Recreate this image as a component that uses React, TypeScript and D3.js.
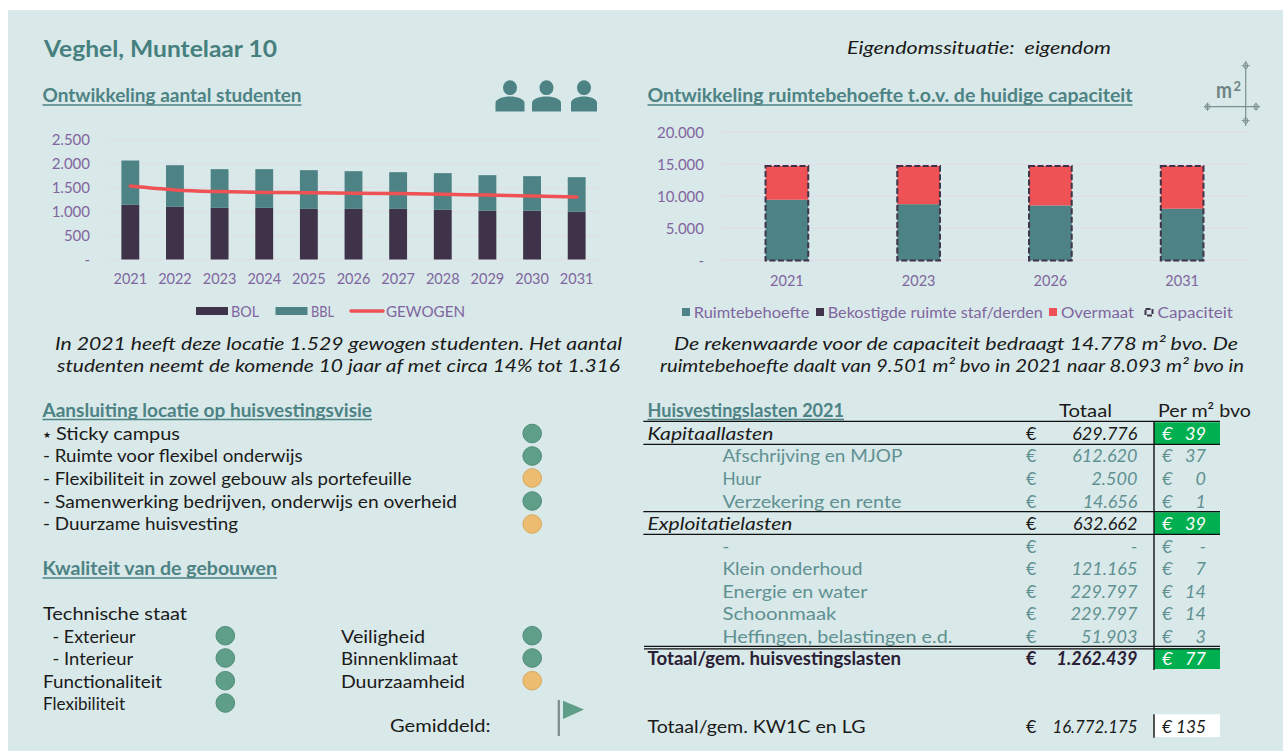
import * as d3 from "d3";
import { useEffect, useRef } from "react";

// student chart
const studentYears = ["2021", "2022", "2023", "2024", "2025", "2026", "2027", "2028", "2029", "2030", "2031"];
const bol = [1139, 1097, 1076, 1076, 1055, 1055, 1055, 1035, 1014, 1014, 993];
const bbl = [923, 868, 806, 806, 806, 785, 764, 764, 743, 722, 722];
const gewogen = [1529, 1450, 1415, 1397, 1392, 1380, 1375, 1358, 1342, 1325, 1300];
const studentTicks = [0, 500, 1000, 1500, 2000, 2500];

// space chart
const spaceYears = ["2021", "2023", "2026", "2031"];
const ruimtebehoefte = [9501, 8800, 8600, 8093];
const bekostigd = [0, 0, 0, 0];
const overmaat = [5277, 5978, 6178, 6685];
const capaciteit = [14778, 14778, 14778, 14778];
const spaceTicks = [0, 5000, 10000, 15000, 20000];

// scores
const visieNames = [
  "- Ruimte voor flexibel onderwijs",
  "- Flexibiliteit in zowel gebouw als portefeuille",
  "- Samenwerking bedrijven, onderwijs en overheid",
  "- Duurzame huisvesting",
];
const visieScores = ["good", "good", "ok", "good", "ok"];
const kwaliteitLeft = ["- Exterieur", "- Interieur", "Functionaliteit", "Flexibiliteit"];
const kwaliteitLeftScores = ["good", "good", "good", "good"];
const kwaliteitRight = ["Veiligheid", "Binnenklimaat", "Duurzaamheid"];
const kwaliteitRightScores = ["good", "good", "ok"];

// costs table
const costNames = [
  "Kapitaallasten", "Afschrijving en MJOP", "Huur", "Verzekering en rente",
  "Exploitatielasten", "-", "Klein onderhoud", "Energie en water", "Schoonmaak",
  "Heffingen, belastingen e.d.", "Totaal/gem. huisvestingslasten",
];
const costTotals = ["629.776", "612.620", "2.500", "14.656", "632.662", "-", "121.165", "229.797", "229.797", "51.903", "1.262.439"];
const costPerM2 = ["39", "37", "0", "1", "39", "-", "7", "14", "14", "3", "77"];
const costKinds = ["head", "sub", "sub", "sub", "head", "sub", "sub", "sub", "sub", "sub", "total"];

const FONT = "Lato, 'Open Sans', sans-serif";
const TEAL = "#4d8385";
const DARK = "#3e3349";
const RED = "#ee5254";
const PURPLE = "#7f669f";
const GREEN = "#5f9e89";
const AMBER = "#ecbc70";

const nl = d3.formatLocale({ decimal: ",", thousands: ".", grouping: [3], currency: ["€", ""] });
const tickFormat = (d) => (d === 0 ? "-" : nl.format(",")(d));

type TextOpts = {
  w?: number;
  size?: number;
  fill?: string;
  weight?: string;
  italic?: boolean;
  anchor?: string;
};

// every text sits on its vertical centre, w squeezes it to the reference width
function put(g, str, x, y, o: TextOpts = {}) {
  const t = g
    .append("text")
    .attr("x", x)
    .attr("y", y)
    .attr("dy", ".35em")
    .attr("font-family", FONT)
    .attr("font-size", o.size ?? 18)
    .attr("fill", o.fill ?? "#1a1a1a")
    .attr("font-weight", o.weight ?? "normal")
    .attr("font-style", o.italic ? "italic" : "normal")
    .attr("text-anchor", o.anchor ?? "start")
    .text(str);
  if (o.w) t.attr("textLength", o.w).attr("lengthAdjust", "spacingAndGlyphs");
  return t;
}

function heading(g, str, x, y, w) {
  put(g, str, x, y, { w, weight: "bold", fill: TEAL, size: 18.5 });
  g.append("line")
    .attr("x1", x)
    .attr("x2", x + w)
    .attr("y1", y + 9)
    .attr("y2", y + 9)
    .attr("stroke", TEAL)
    .attr("stroke-width", 1.6);
}

function dot(g, x, y, score) {
  g.append("circle")
    .attr("cx", x)
    .attr("cy", y)
    .attr("r", 9.3)
    .attr("fill", score === "good" ? GREEN : AMBER)
    .attr("stroke", score === "good" ? "#4f8c78" : "#d8a85c")
    .attr("stroke-width", 1);
}

function person(g, cx, w) {
  g.append("ellipse").attr("cx", cx).attr("cy", 87.7).attr("rx", 7).attr("ry", 7.4).attr("fill", TEAL);
  const r = w / 2;
  g.append("path")
    .attr("d", `M${cx - r},111.5 V103 C${cx - r},99 ${cx - r / 2},96.5 ${cx},96.5 C${cx + r / 2},96.5 ${cx + r},99 ${cx + r},103 V111.5 Z`)
    .attr("fill", TEAL);
}

function styleAxis(g, size) {
  g.call((s) => s.select(".domain").remove());
  g.selectAll(".tick line").remove();
  g.selectAll("text").attr("font-family", FONT).attr("font-size", size).attr("fill", PURPLE);
}

function drawStudents(svg) {
  const x = d3.scaleBand().domain(studentYears).range([108, 599]).paddingInner(0.6).paddingOuter(0.3);
  const y = d3.scaleLinear().domain([0, 2500]).range([259.5, 139.5]);

  const g = svg.append("g");
  g.append("g")
    .selectAll("line")
    .data(studentTicks)
    .join("line")
    .attr("x1", 108)
    .attr("x2", 599)
    .attr("y1", (d) => y(d))
    .attr("y2", (d) => y(d))
    .attr("stroke", "#e0dde8")
    .attr("stroke-width", 1);

  const rows = studentYears.map((year, i) => ({ year, bol: bol[i], bbl: bbl[i] }));
  const stack = d3.stack().keys(["bol", "bbl"])(rows);
  const colors = [DARK, TEAL];
  stack.forEach((layer, i) => {
    g.append("g")
      .attr("fill", colors[i])
      .selectAll("rect")
      .data(layer)
      .join("rect")
      .attr("x", (d) => x(d.data.year))
      .attr("y", (d) => y(d[1]))
      .attr("width", x.bandwidth())
      .attr("height", (d) => y(d[0]) - y(d[1]));
  });

  const line = d3
    .line()
    .x((d, i) => x(studentYears[i]) + x.bandwidth() / 2)
    .y((d) => y(d))
    .curve(d3.curveMonotoneX);
  g.append("path")
    .attr("d", line(gewogen))
    .attr("fill", "none")
    .attr("stroke", RED)
    .attr("stroke-width", 3.5)
    .attr("stroke-linecap", "round");

  g.append("g")
    .attr("transform", "translate(96,0)")
    .call(d3.axisLeft(y).tickValues(studentTicks).tickFormat(tickFormat).tickSize(0).tickPadding(6))
    .call((s) => styleAxis(s, 15));
  g.append("g")
    .attr("transform", "translate(0,271)")
    .call(d3.axisBottom(x).tickSize(0).tickPadding(3))
    .call((s) => styleAxis(s, 14.5));

  // legend
  g.append("rect").attr("x", 196).attr("y", 307).attr("width", 32).attr("height", 8).attr("fill", DARK);
  put(g, "BOL", 231, 312, { fill: PURPLE, size: 14.5, w: 28 });
  g.append("rect").attr("x", 275.5).attr("y", 307).attr("width", 32).attr("height", 8).attr("fill", TEAL);
  put(g, "BBL", 311, 312, { fill: PURPLE, size: 14.5, w: 23 });
  g.append("line").attr("x1", 351).attr("x2", 383).attr("y1", 311).attr("y2", 311)
    .attr("stroke", RED).attr("stroke-width", 3.5).attr("stroke-linecap", "round");
  put(g, "GEWOGEN", 386, 312, { fill: PURPLE, size: 14.5, w: 79 });
}

function drawSpace(svg) {
  const x = d3.scaleBand().domain(spaceYears).range([721, 1248]).paddingInner(0.676).paddingOuter(0.338);
  const y = d3.scaleLinear().domain([0, 20000]).range([260.5, 132.5]);

  const g = svg.append("g");
  g.append("g")
    .selectAll("line")
    .data(spaceTicks)
    .join("line")
    .attr("x1", 721)
    .attr("x2", 1248)
    .attr("y1", (d) => y(d))
    .attr("y2", (d) => y(d))
    .attr("stroke", "#e6d8ea")
    .attr("stroke-width", 1);

  const rows = spaceYears.map((year, i) => ({
    year,
    ruimte: ruimtebehoefte[i],
    staf: bekostigd[i],
    over: overmaat[i],
  }));
  const stack = d3.stack().keys(["ruimte", "staf", "over"])(rows);
  const colors = [TEAL, DARK, RED];
  stack.forEach((layer, i) => {
    g.append("g")
      .attr("fill", colors[i])
      .selectAll("rect")
      .data(layer)
      .join("rect")
      .attr("x", (d) => x(d.data.year))
      .attr("y", (d) => y(d[1]))
      .attr("width", x.bandwidth())
      .attr("height", (d) => y(d[0]) - y(d[1]));
  });

  // capacity outline
  g.append("g")
    .selectAll("rect")
    .data(capaciteit)
    .join("rect")
    .attr("x", (d, i) => x(spaceYears[i]))
    .attr("y", (d) => y(d))
    .attr("width", x.bandwidth())
    .attr("height", (d) => y(0) - y(d))
    .attr("fill", "none")
    .attr("stroke", DARK)
    .attr("stroke-width", 2)
    .attr("stroke-dasharray", "6 2.5");

  g.append("g")
    .attr("transform", "translate(704,0)")
    .call(d3.axisLeft(y).tickValues(spaceTicks).tickFormat(tickFormat).tickSize(0).tickPadding(0))
    .call((s) => styleAxis(s, 15));
  g.append("g")
    .attr("transform", "translate(0,276)")
    .call(d3.axisBottom(x).tickSize(0).tickPadding(0))
    .call((s) => styleAxis(s, 14.5));

  // legend
  const lg = [
    { name: "Ruimtebehoefte", c: TEAL, sx: 682, tx: 693.7, w: 115.7 },
    { name: "Bekostigde ruimte staf/derden", c: DARK, sx: 816, tx: 827.8, w: 215 },
    { name: "Overmaat", c: RED, sx: 1049, tx: 1061, w: 73 },
  ];
  lg.forEach((l) => {
    g.append("rect").attr("x", l.sx).attr("y", 308).attr("width", 8).attr("height", 8).attr("fill", l.c);
    put(g, l.name, l.tx, 313, { fill: PURPLE, size: 14.5, w: l.w });
  });
  g.append("rect").attr("x", 1145.5).attr("y", 309).attr("width", 7).attr("height", 6.5)
    .attr("fill", "none").attr("stroke", DARK).attr("stroke-width", 2).attr("stroke-dasharray", "5 2");
  put(g, "Capaciteit", 1157.5, 313, { fill: PURPLE, size: 14.5, w: 75.5 });
}

function drawM2(svg) {
  const g = svg.append("g").attr("stroke", "#7d9190").attr("fill", "none");
  g.append("line").attr("x1", 1245.7).attr("x2", 1245.7).attr("y1", 61).attr("y2", 126).attr("stroke-width", 1.2);
  g.append("line").attr("x1", 1204).attr("x2", 1260).attr("y1", 106.7).attr("y2", 106.7).attr("stroke-width", 1.2);
  [[1245.7, 65.7], [1245.7, 120.7]].forEach(([cx, cy]) => {
    g.append("ellipse").attr("cx", cx).attr("cy", cy).attr("rx", 2).attr("ry", 3);
    g.append("line").attr("x1", cx - 4).attr("x2", cx + 4).attr("y1", cy).attr("y2", cy);
  });
  [[1207.5, 106.7], [1256, 106.7]].forEach(([cx, cy]) => {
    g.append("ellipse").attr("cx", cx).attr("cy", cy).attr("rx", 2).attr("ry", 3);
    g.append("line").attr("x1", cx).attr("x2", cx).attr("y1", cy - 4).attr("y2", cy + 4);
  });
  put(svg, "m", 1216, 90.5, { fill: "#6f8482", weight: "bold", size: 22, w: 16 });
  put(svg, "2", 1233.5, 86.5, { fill: "#6f8482", weight: "bold", size: 13 });
}

function drawLeftLists(svg) {
  const g = svg.append("g");
  heading(g, "Aansluiting locatie op huisvestingsvisie", 42.5, 410.5, 329.5);

  const visieY = [434, 456, 479, 502, 524];
  const visieW = [259.5, 368.5, 414, 195];
  put(g, "★", 43, 434.5, { size: 9, fill: "#1a1a1a" });
  put(g, "Sticky campus", 56, 434, { w: 124 });
  visieNames.forEach((d, i) => put(g, d, 43, visieY[i + 1], { w: visieW[i] }));
  visieScores.forEach((s, i) => dot(g, 532.2, [433.5, 456, 478, 501, 524][i], s));

  heading(g, "Kwaliteit van de gebouwen", 42.5, 569, 234.5);

  put(g, "Technische staat", 43, 614, { w: 144 });
  const leftX = [52.6, 52.6, 43, 43];
  const leftW = [83, 80.5, 119, 82];
  const rowY = [637, 659, 682, 704];
  const dotY = [635.7, 658, 680.7, 703];
  kwaliteitLeft.forEach((d, i) => {
    put(g, d, leftX[i], rowY[i], { w: leftW[i] });
    dot(g, 225.3, dotY[i], kwaliteitLeftScores[i]);
  });
  const rightW = [84, 117, 124];
  kwaliteitRight.forEach((d, i) => {
    put(g, d, 341, rowY[i], { w: rightW[i] });
    dot(g, 532.2, dotY[i], kwaliteitRightScores[i]);
  });

  put(g, "Gemiddeld:", 390, 726, { w: 100.5 });
  g.append("line").attr("x1", 558.8).attr("x2", 558.8).attr("y1", 700).attr("y2", 736)
    .attr("stroke", "#7c8a8c").attr("stroke-width", 2.2);
  g.append("path").attr("d", "M563,700.7 L584,709.5 L563,719 Z").attr("fill", GREEN);
}

function drawTable(svg) {
  const g = svg.append("g");
  heading(g, "Huisvestingslasten 2021", 647.5, 410.5, 196.5);
  put(g, "Totaal", 1059, 411, { w: 53 });
  put(g, "Per m² bvo", 1158, 411, { w: 93 });

  const rowY = [434, 456, 478.7, 502, 524, 547, 569, 591.7, 614, 636.7, 659];
  const nameW = [126, 180, 38.6, 179, 145, 0, 140, 145, 114, 230, 253.5];

  // green cells sit under the lines
  [[422.3, 444.3], [512.3, 534.3], [648.3, 669]].forEach(([a, b]) => {
    g.append("rect").attr("x", 1154).attr("y", a).attr("width", 66).attr("height", b - a).attr("fill", "#00b050");
  });
  g.append("rect").attr("x", 1154).attr("y", 714.3).attr("width", 66).attr("height", 22.7).attr("fill", "#fff");

  costNames.forEach((name, i) => {
    const kind = costKinds[i];
    const sub = kind === "sub";
    const total = kind === "total";
    const fill = sub ? "#5f9192" : total ? "#2a2035" : "#1a1a1a";
    put(g, name, sub ? 722.4 : 647.5, rowY[i], {
      w: nameW[i] || undefined,
      fill,
      italic: kind === "head",
      weight: total ? "bold" : "normal",
    });
    put(g, "€", 1026, rowY[i], { fill, weight: total ? "bold" : "normal" });
    put(g, costTotals[i], 1137.4, rowY[i], {
      fill,
      anchor: "end",
      italic: true,
      weight: total ? "bold" : "normal",
    });
    const pf = sub ? "#5f9192" : "#fff";
    put(g, "€", 1162, rowY[i], { fill: pf, italic: true });
    put(g, costPerM2[i], 1206, rowY[i], { fill: pf, anchor: "end", italic: true });
  });

  // table rules
  const rules = g.append("g").attr("stroke", "#111");
  [421.3, 444.3, 511.7, 534.3].forEach((y) => {
    rules.append("line").attr("x1", 643.3).attr("x2", 1220).attr("y1", y).attr("y2", y).attr("stroke-width", 1.3);
  });
  [646.3, 648.8].forEach((y) => {
    rules.append("line").attr("x1", 644).attr("x2", 1220).attr("y1", y).attr("y2", y).attr("stroke-width", 1.2);
  });
  rules.append("line").attr("x1", 1154).attr("x2", 1154).attr("y1", 421).attr("y2", 670).attr("stroke-width", 1.4);
  rules.append("line").attr("x1", 1154).attr("x2", 1154).attr("y1", 714.3).attr("y2", 737.7).attr("stroke-width", 1.4);

  put(g, "Totaal/gem. KW1C en LG", 647.5, 726.7, { w: 218 });
  put(g, "€", 1026, 726.7);
  put(g, "16.772.175", 1137.4, 726.7, { anchor: "end", italic: true, w: 85 });
  put(g, "€ 135", 1162, 726.7, { italic: true, w: 44 });
}

export default function App() {
  const svgRef = useRef(null);

  useEffect(() => {
    const svg = d3.select(svgRef.current);
    svg.selectAll("*").remove();

    svg.append("rect").attr("x", 8).attr("y", 10).attr("width", 1275).attr("height", 741).attr("fill", "#d9e8e8");

    put(svg, "Veghel, Muntelaar 10", 44, 48.5, { w: 233, weight: "bold", size: 23, fill: "#45807f" });
    put(svg, "Eigendomssituatie:  eigendom", 847, 48, { w: 264, italic: true, size: 18 }).attr("xml:space", "preserve");

    heading(svg, "Ontwikkeling aantal studenten", 42.5, 96, 259);
    person(svg, 510, 29);
    person(svg, 546.5, 29);
    person(svg, 584, 26);
    heading(svg, "Ontwikkeling ruimtebehoefte t.o.v. de huidige capaciteit", 647.5, 96, 485);
    drawM2(svg);

    drawStudents(svg);
    drawSpace(svg);

    put(svg, "In 2021 heeft deze locatie 1.529 gewogen studenten. Het aantal", 55, 344, { w: 567, italic: true, size: 18 });
    put(svg, "studenten neemt de komende 10 jaar af met circa 14% tot 1.316", 57, 366, { w: 563, italic: true, size: 18 });
    put(svg, "De rekenwaarde voor de capaciteit bedraagt 14.778 m² bvo. De", 674, 344, { w: 564, italic: true, size: 18 });
    put(svg, "ruimtebehoefte daalt van 9.501 m² bvo in 2021 naar 8.093 m² bvo in", 660, 366, { w: 584, italic: true, size: 18 });

    drawLeftLists(svg);
    drawTable(svg);
  }, []);

  return (
    <svg
      ref={svgRef}
      width={1283}
      height={751}
      style={{ position: "absolute", left: 0, top: 0, display: "block" }}
    />
  );
}
